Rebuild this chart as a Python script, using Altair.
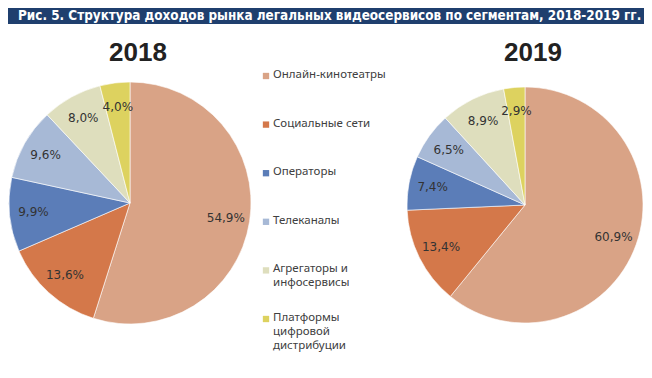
import altair as alt
import pandas as pd

categories = ["Онлайн-кинотеатры", "Социальные сети", "Операторы",
              "Телеканалы", "Агрегаторы и инфосервисы", "Платформы цифровой дистрибуции"]
legend_lines = [["Онлайн-кинотеатры"], ["Социальные сети"], ["Операторы"],
                ["Телеканалы"], ["Агрегаторы и", "инфосервисы"],
                ["Платформы", "цифровой", "дистрибуции"]]
values_2018 = [54.9, 13.6, 9.9, 9.6, 8.0, 4.0]
values_2019 = [60.9, 13.4, 7.4, 6.5, 8.9, 2.9]
colors = ["#D9A386", "#D4784A", "#5B7DB8", "#A7B9D6", "#DEDEBD", "#DDD25F"]
title_text = "Рис. 5. Структура доходов рынка легальных видеосервисов по сегментам, 2018-2019 гг."

rows = []
for i, c in enumerate(categories):
    rows.append({"year": "2018", "cat": c, "value": values_2018[i], "idx": i})
    rows.append({"year": "2019", "cat": c, "value": values_2019[i], "idx": i})
df = pd.DataFrame(rows)
legend_df = pd.DataFrame({"cat": categories, "lines": legend_lines, "idx": list(range(len(categories)))})

W, H = 636, 362
color_scale = alt.Scale(domain=categories, range=colors)
label_expr = "replace(format(datum.value, '.1f'), '.', ',') + '%'"


def pie(year, cx, cy, r, lr):
    base = alt.Chart(df).transform_filter(alt.datum.year == year).transform_calculate(
        lab=label_expr
    ).encode(
        theta=alt.Theta("value:Q", stack=True, scale=alt.Scale(domain=[0, 100])),
        order=alt.Order("idx:Q"),
        x=alt.value(cx), y=alt.value(cy),
    )
    arcs = base.mark_arc(outerRadius=r, stroke="white", strokeWidth=0.6).encode(
        color=alt.Color("cat:N", scale=color_scale, legend=None)
    )
    text = base.mark_text(radius=lr, font="DejaVu Sans", fontSize=12, color="#333333").encode(
        text="lab:N"
    )
    ytitle = alt.Chart(pd.DataFrame({"t": [year]})).mark_text(
        font="Liberation Sans", fontWeight="bold", fontSize=26, color="#222222", baseline="middle"
    ).encode(text="t:N", x=alt.value(cx + 8), y=alt.value(45))
    return arcs + text + ytitle


bar = alt.Chart(pd.DataFrame({"t": [title_text]})).mark_rect(color="#1F3F6E").encode(
    x=alt.value(0), x2=alt.value(W), y=alt.value(0), y2=alt.value(16)
)
bar_text = alt.Chart(pd.DataFrame({"t": [title_text]})).mark_text(
    font="DejaVu Sans Condensed, Liberation Sans Narrow, Roboto Condensed, Roboto",
    fontWeight="bold", fontSize=13.4, color="white", align="left", baseline="middle"
).encode(text="t:N", x=alt.value(10), y=alt.value(8))

ly = alt.Y("cat:N", sort=categories, axis=None,
           scale=alt.Scale(type="point", range=[68, 311], padding=0))
leg_sym = alt.Chart(legend_df).mark_square(size=40, opacity=1).encode(
    x=alt.value(258), y=ly, color=alt.Color("cat:N", scale=color_scale, legend=None)
)
leg_text = alt.Chart(legend_df).mark_text(
    font="Noto Sans", fontSize=11.5, color="#404040", align="left", baseline="top",
    dy=-7, lineHeight=14
).encode(x=alt.value(265), y=ly, text="lines")

chart = alt.layer(
    bar, bar_text,
    pie("2018", 122, 195, 121, 97),
    pie("2019", 517, 197, 118, 94),
    leg_sym, leg_text,
).properties(width=W, height=H, autosize="none", padding=0
).configure_view(stroke=None).resolve_scale(y="independent")

chart.save("out.html", embed_options={"renderer": "svg", "actions": False})
